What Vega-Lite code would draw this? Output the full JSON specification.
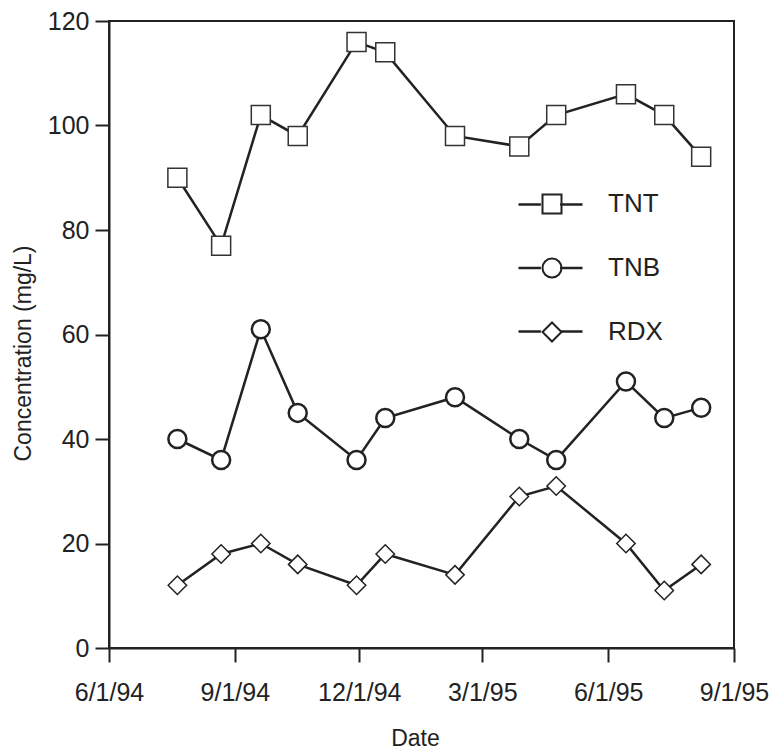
{
  "$schema": "https://vega.github.io/schema/vega-lite/v6.json",
  "width": 625,
  "height": 627,
  "autosize": "none",
  "padding": {"left": 109, "top": 21, "right": 40, "bottom": 106},
  "background": "white",
  "config": {
    "font": "Liberation Sans",
    "view": {"stroke": "#222", "strokeWidth": 2},
    "axis": {
      "domainColor": "#222",
      "domainWidth": 2,
      "tickColor": "#222",
      "tickWidth": 2,
      "tickSize": 14,
      "labelFont": "Liberation Sans",
      "labelFontSize": 25,
      "labelColor": "#222",
      "titleFont": "Liberation Sans",
      "titleFontSize": 23,
      "titleFontWeight": "normal",
      "titleColor": "#222",
      "grid": false,
      "labelOverlap": false,
      "labelFlush": false
    }
  },
  "data": {
    "values": [
      {"date": "1994-07-21", "series": "TNT", "value": 90},
      {"date": "1994-08-22", "series": "TNT", "value": 77},
      {"date": "1994-09-20", "series": "TNT", "value": 102},
      {"date": "1994-10-17", "series": "TNT", "value": 98},
      {"date": "1994-11-29", "series": "TNT", "value": 116},
      {"date": "1994-12-20", "series": "TNT", "value": 114},
      {"date": "1995-02-09", "series": "TNT", "value": 98},
      {"date": "1995-03-28", "series": "TNT", "value": 96},
      {"date": "1995-04-24", "series": "TNT", "value": 102},
      {"date": "1995-06-14", "series": "TNT", "value": 106},
      {"date": "1995-07-12", "series": "TNT", "value": 102},
      {"date": "1995-08-08", "series": "TNT", "value": 94},
      {"date": "1994-07-21", "series": "TNB", "value": 40},
      {"date": "1994-08-22", "series": "TNB", "value": 36},
      {"date": "1994-09-20", "series": "TNB", "value": 61},
      {"date": "1994-10-17", "series": "TNB", "value": 45},
      {"date": "1994-11-29", "series": "TNB", "value": 36},
      {"date": "1994-12-20", "series": "TNB", "value": 44},
      {"date": "1995-02-09", "series": "TNB", "value": 48},
      {"date": "1995-03-28", "series": "TNB", "value": 40},
      {"date": "1995-04-24", "series": "TNB", "value": 36},
      {"date": "1995-06-14", "series": "TNB", "value": 51},
      {"date": "1995-07-12", "series": "TNB", "value": 44},
      {"date": "1995-08-08", "series": "TNB", "value": 46},
      {"date": "1994-07-21", "series": "RDX", "value": 12},
      {"date": "1994-08-22", "series": "RDX", "value": 18},
      {"date": "1994-09-20", "series": "RDX", "value": 20},
      {"date": "1994-10-17", "series": "RDX", "value": 16},
      {"date": "1994-11-29", "series": "RDX", "value": 12},
      {"date": "1994-12-20", "series": "RDX", "value": 18},
      {"date": "1995-02-09", "series": "RDX", "value": 14},
      {"date": "1995-03-28", "series": "RDX", "value": 29},
      {"date": "1995-04-24", "series": "RDX", "value": 31},
      {"date": "1995-06-14", "series": "RDX", "value": 20},
      {"date": "1995-07-12", "series": "RDX", "value": 11},
      {"date": "1995-08-08", "series": "RDX", "value": 16}
    ]
  },
  "encoding": {
    "x": {
      "field": "date",
      "type": "temporal",
      "scale": {
        "type": "utc",
        "domain": [
          {"year": 1994, "month": 6, "date": 1, "utc": true},
          {"year": 1995, "month": 9, "date": 1, "utc": true}
        ]
      },
      "axis": {
        "title": "Date",
        "format": "%-m/%-d/%y",
        "values": [
          {"year": 1994, "month": 6, "date": 1, "utc": true},
          {"year": 1994, "month": 9, "date": 1, "utc": true},
          {"year": 1994, "month": 12, "date": 1, "utc": true},
          {"year": 1995, "month": 3, "date": 1, "utc": true},
          {"year": 1995, "month": 6, "date": 1, "utc": true},
          {"year": 1995, "month": 9, "date": 1, "utc": true}
        ],
        "labelPadding": 18,
        "titlePadding": 22,
        "titleX": 306
      }
    },
    "y": {
      "field": "value",
      "type": "quantitative",
      "scale": {"domain": [0, 120], "nice": false},
      "axis": {
        "title": "Concentration (mg/L)",
        "values": [0, 20, 40, 60, 80, 100, 120],
        "labelPadding": 6,
        "titlePadding": 12,
        "titleY": 332
      }
    }
  },
  "layer": [
    {
      "mark": {"type": "line", "strokeWidth": 2.5},
      "encoding": {
        "color": {
          "field": "series",
          "type": "nominal",
          "scale": {"domain": ["RDX", "TNB", "TNT"], "range": ["#222", "#222", "#222"]},
          "legend": {
            "orient": "none",
            "legendX": 408,
            "legendY": 150,
            "title": null,
            "padding": 0,
            "symbolType": "M-1,0L-0.3,0M0.3,0L1,0",
            "symbolSize": 4096,
            "symbolStrokeWidth": 2.5,
            "labelFontSize": 26,
            "labelColor": "rgba(0,0,0,0)",
            "rowPadding": 16.5
          }
        }
      }
    },
    {
      "transform": [{"filter": "datum.value < 0"}],
      "mark": {"type": "point", "filled": false, "color": "#222", "strokeWidth": 2, "opacity": 1},
      "encoding": {
        "shape": {
          "field": "series",
          "type": "nominal",
          "scale": {"domain": ["TNT", "TNB", "RDX"], "range": ["square", "circle", "diamond"]},
          "legend": {
            "orient": "none",
            "legendX": 430,
            "legendY": 170,
            "title": null,
            "padding": 0,
            "labelFont": "Liberation Sans",
            "labelFontSize": 26,
            "labelColor": "#222",
            "labelOffset": 43,
            "symbolSize": 361,
            "symbolOpacity": 1,
            "symbolStrokeColor": "#222",
            "symbolStrokeWidth": 2,
            "rowPadding": 36
          }
        }
      }
    },
    {
      "transform": [{"filter": "datum.series === 'TNT'"}],
      "mark": {"type": "point", "shape": "square", "filled": true, "fill": "white", "stroke": "#333", "strokeWidth": 1.5, "size": 361, "opacity": 1}
    },
    {
      "transform": [{"filter": "datum.series === 'TNB'"}],
      "mark": {"type": "point", "shape": "circle", "filled": true, "fill": "white", "stroke": "#222", "strokeWidth": 2.5, "size": 324, "opacity": 1}
    },
    {
      "transform": [{"filter": "datum.series === 'RDX'"}],
      "mark": {"type": "point", "shape": "diamond", "filled": true, "fill": "white", "stroke": "#222", "strokeWidth": 1.5, "size": 340, "opacity": 1}
    }
  ]
}
